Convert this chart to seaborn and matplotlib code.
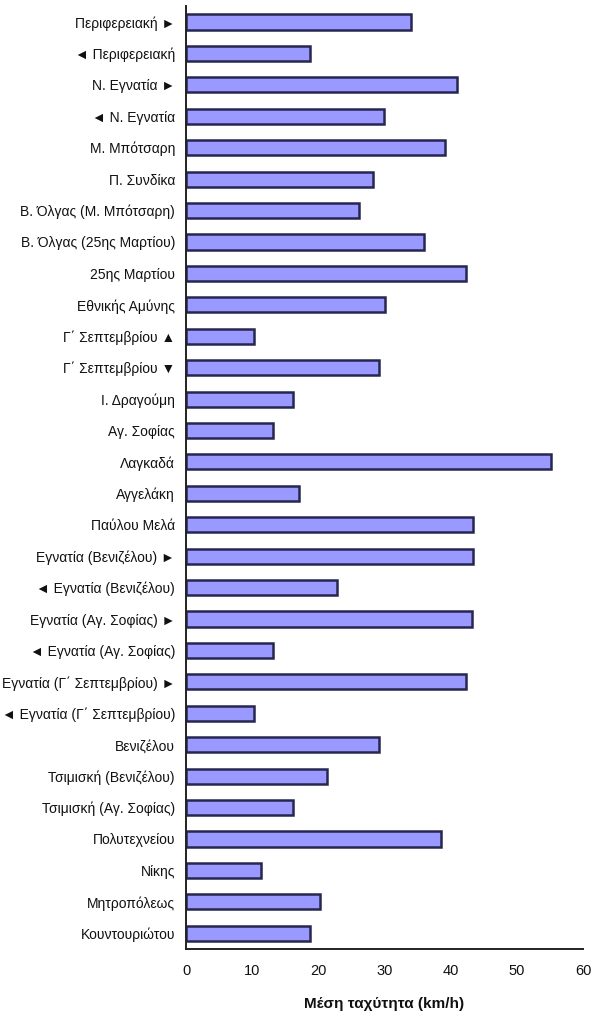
import numpy as np
import pandas as pd
import matplotlib
matplotlib.use("Agg")
import matplotlib.pyplot as plt
import seaborn as sns

# Road segments (top to bottom) and their mean travel speed in km/h
segments = [
    "Περιφερειακή ►",
    "◄ Περιφερειακή",
    "Ν. Εγνατία ►",
    "◄ Ν. Εγνατία",
    "Μ. Μπότσαρη",
    "Π. Συνδίκα",
    "Β. Όλγας (Μ. Μπότσαρη)",
    "Β. Όλγας (25ης Μαρτίου)",
    "25ης Μαρτίου",
    "Εθνικής Αμύνης",
    "Γ΄ Σεπτεμβρίου ▲",
    "Γ΄ Σεπτεμβρίου ▼",
    "Ι. Δραγούμη",
    "Αγ. Σοφίας",
    "Λαγκαδά",
    "Αγγελάκη",
    "Παύλου Μελά",
    "Εγνατία (Βενιζέλου) ►",
    "◄ Εγνατία (Βενιζέλου)",
    "Εγνατία (Αγ. Σοφίας) ►",
    "◄ Εγνατία (Αγ. Σοφίας)",
    "Εγνατία (Γ΄ Σεπτεμβρίου) ►",
    "◄ Εγνατία (Γ΄ Σεπτεμβρίου)",
    "Βενιζέλου",
    "Τσιμισκή (Βενιζέλου)",
    "Τσιμισκή (Αγ. Σοφίας)",
    "Πολυτεχνείου",
    "Νίκης",
    "Μητροπόλεως",
    "Κουντουριώτου",
]
mean_speed = [
    34.0, 18.7, 41.0, 29.9, 39.1, 28.2, 26.2, 36.0, 42.3, 30.1,
    10.3, 29.2, 16.1, 13.1, 55.1, 17.1, 43.3, 43.3, 22.8, 43.2,
    13.1, 42.3, 10.3, 29.2, 21.3, 16.2, 38.5, 11.3, 20.3, 18.7,
]
x_ticks = [0, 10, 20, 30, 40, 50, 60]
x_label = "Μέση ταχύτητα (km/h)"

df = pd.DataFrame({"segment": segments, "speed": mean_speed})

sns.set_style("white")
plt.rcParams["font.family"] = ["Liberation Sans Narrow", "Liberation Sans", "DejaVu Sans"]
plt.rcParams["text.color"] = "#111111"
plt.rcParams["xtick.color"] = "#111111"
plt.rcParams["ytick.color"] = "#111111"
plt.rcParams["axes.labelcolor"] = "#111111"

fig = plt.figure(figsize=(5.93, 10.17), dpi=100)
ax = fig.add_axes([0.3137, 0.0669, 0.6695, 0.9269])

sns.barplot(
    data=df, x="speed", y="segment", orient="h",
    color="#9999FF", edgecolor="#262650", linewidth=1.8,
    width=0.48, saturation=1, ax=ax,
)

n = len(segments)
ax.set_xlim(0, 60)
ax.set_ylim(n - 0.5, -0.5)
ax.set_xticks(x_ticks)
ax.set_xticklabels([str(t) for t in x_ticks], fontsize=10.5)
ax.set_yticks(range(n))
ax.set_yticklabels(segments, fontsize=10)
ax.set_yticks(np.arange(-0.5, n, 1.0), minor=True)

ax.tick_params(axis="y", which="major", length=0, pad=8)
ax.tick_params(axis="y", which="minor", length=5, width=1.2, direction="inout", color="#222222")
ax.tick_params(axis="x", which="major", length=5, width=1.2, direction="inout", color="#222222", pad=8)

for side in ("top", "right"):
    ax.spines[side].set_visible(False)
for side in ("left", "bottom"):
    ax.spines[side].set_color("#222222")
    ax.spines[side].set_linewidth(1.4)

ax.set_ylabel("")
ax.set_xlabel(x_label, fontsize=11, fontweight="bold", labelpad=14)

fig.savefig("out.png", dpi=100, facecolor="white")
